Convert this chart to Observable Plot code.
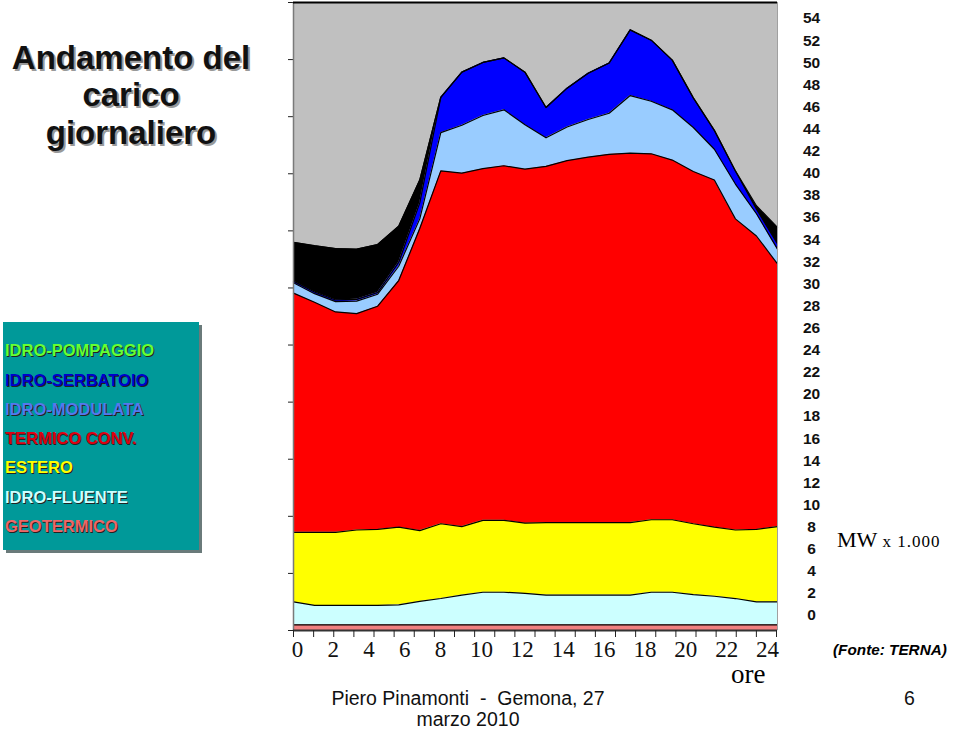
<!DOCTYPE html>
<html>
<head>
<meta charset="utf-8">
<script src="https://cdn.jsdelivr.net/npm/d3@7"></script>
<script src="https://cdn.jsdelivr.net/npm/@observablehq/plot@0.6"></script>
<style>
  html, body { margin: 0; padding: 0; background: #fff; }
  #page { position: relative; width: 960px; height: 730px; overflow: hidden; font-family: "Liberation Sans", Arial, sans-serif; }
  .abs { position: absolute; line-height: 1; white-space: pre; }
  .title { left: 0; width: 262px; text-align: center; font-weight: bold; font-size: 33px; color: #111; text-shadow: 2px 2px 0 #999; }
  #legend { position: absolute; left: 3px; top: 322px; width: 196px; height: 228px; background: #009999; box-shadow: 3px 3px 0 #6a7a7a; }
  .leg { left: 5px; font-weight: bold; font-size: 16.5px; text-shadow: 1px 1px 0 #222; }
  svg { position: absolute; overflow: visible; }
</style>
</head>
<body>
<div id="page">
  <div class="abs title" style="top:40.6px">Andamento del</div>
  <div class="abs title" style="top:77.6px">carico</div>
  <div class="abs title" style="top:116.1px">giornaliero</div>
  <div id="legend"></div>
  <div id="chart"></div>
  <div class="abs" style="left:837px; top:528.5px; font-family:'Liberation Serif','Times New Roman',serif; font-size:22px;">MW<span style="font-size:17px; letter-spacing:1px"> x 1.000</span></div>
  <div class="abs" style="left:731px; top:664px; font-family:'Liberation Serif','Times New Roman',serif; font-size:27px; line-height:0.8;">ore</div>
  <div class="abs" style="left:833px; top:641.5px; font-weight:bold; font-style:italic; font-size:15.3px;">(Fonte: TERNA)</div>
  <div class="abs" style="left:268px; width:400px; text-align:center; top:689px; font-size:19.5px; color:#111;">Piero Pinamonti  -  Gemona, 27</div>
  <div class="abs" style="left:268px; width:400px; text-align:center; top:710px; font-size:19.5px; color:#111;">marzo 2010</div>
  <div class="abs" style="left:904px; top:689px; font-size:19.5px; color:#111;">6</div>
</div>
<script>
// ---- data (MW x 1000), 24 hourly samples ----
const ore = [1, 2, 3, 4, 5, 6, 7, 8, 9, 10, 11, 12, 13, 14, 15, 16, 17, 18, 19, 20, 21, 22, 23, 24];

const fonti = ["GEOTERMICO", "IDRO-FLUENTE", "ESTERO", "TERMICO CONV.", "IDRO-MODULATA", "IDRO-SERBATOIO", "IDRO-POMPAGGIO"];
const colori = ["#f08080", "#ccffff", "#ffff00", "#ff0000", "#99ccff", "#0000ff", "#000000"];

const geotermico   = [0.5, 0.5, 0.5, 0.5, 0.5, 0.5, 0.5, 0.5, 0.5, 0.5, 0.5, 0.5, 0.5, 0.5, 0.5, 0.5, 0.5, 0.5, 0.5, 0.5, 0.5, 0.5, 0.5, 0.5];
const idroFluente  = [2.0, 1.7, 1.7, 1.7, 1.7, 1.75, 2.05, 2.3, 2.6, 2.85, 2.85, 2.75, 2.6, 2.6, 2.6, 2.6, 2.6, 2.85, 2.85, 2.65, 2.5, 2.3, 2.0, 2.0];
const estero       = [6.1, 6.4, 6.4, 6.6, 6.65, 6.8, 6.2, 6.55, 6.0, 6.3, 6.3, 6.15, 6.35, 6.35, 6.35, 6.35, 6.35, 6.35, 6.35, 6.2, 6.05, 6.0, 6.35, 6.6];
const termico      = [20.95, 20.15, 19.3, 18.95, 19.55, 21.6, 26.45, 30.9, 30.95, 30.8, 31.05, 31.0, 31.2, 31.7, 32.0, 32.25, 32.35, 32.05, 31.5, 30.85, 30.4, 27.25, 25.7, 23.0];
const idroModulata = [0.9, 0.75, 0.9, 1.1, 1.05, 1.25, 0.85, 3.35, 4.2, 4.65, 4.9, 3.9, 2.5, 2.95, 3.3, 3.6, 5.05, 4.6, 4.4, 3.85, 2.7, 3.05, 1.95, 1.3];
const idroSerbatoio= [0.15, 0.15, 0.15, 0.15, 0.15, 0.35, 1.4, 3.1, 4.65, 4.65, 4.55, 4.6, 2.65, 3.4, 4.05, 4.4, 5.75, 5.35, 4.35, 2.6, 1.65, 1.15, 0.4, 0.45];
const idroPompaggio= [3.4, 4.05, 4.5, 4.4, 4.2, 3.15, 2.0, 0, 0, 0, 0, 0, 0, 0, 0, 0, 0, 0, 0, 0, 0, 0, 0.3, 1.45];

const serie = [geotermico, idroFluente, estero, termico, idroModulata, idroSerbatoio, idroPompaggio];

// tick values / labels
const yTicksLeft = [0, 5, 10, 15, 20, 25, 30, 35, 40, 45, 50, 55];
const hourTicks = [0, 1, 2, 3, 4, 5, 6, 7, 8, 9, 10, 11, 12, 13, 14, 15, 16, 17, 18, 19, 20, 21, 22, 23, 24];
const hourLabels = [0, 2, 4, 6, 8, 10, 12, 14, 16, 18, 20, 22, 24];
const mwLabels = [54, 52, 50, 48, 46, 44, 42, 40, 38, 36, 34, 32, 30, 28, 26, 24, 22, 20, 18, 16, 14, 12, 10, 8, 6, 4, 2, 0];

// legend (top to bottom)
const legendOrder = ["IDRO-POMPAGGIO", "IDRO-SERBATOIO", "IDRO-MODULATA", "TERMICO CONV.", "ESTERO", "IDRO-FLUENTE", "GEOTERMICO"];
const legendColors = ["#66ff33", "#0000cc", "#5577ee", "#dd0011", "#ffff00", "#ccffff", "#ee6666"];
const legendCenters = [350, 380, 409, 438, 467, 497, 526];

const table = fonti.flatMap((f, k) => ore.map((h, i) => ({ora: h, fonte: f, mw: serie[k][i]})));

const page = document.getElementById("page");

// legend items
legendOrder.forEach((name, i) => {
  const d = document.createElement("div");
  d.className = "abs leg";
  d.style.top = (legendCenters[i] - 8) + "px";
  d.style.color = legendColors[i];
  d.textContent = name;
  page.appendChild(d);
});

// main stacked area chart
const main = Plot.plot({
  width: 540, height: 640,
  marginLeft: 43, marginRight: 13, marginTop: 2, marginBottom: 10,
  x: {domain: [1, 24], axis: null},
  y: {domain: [0, 55], axis: null},
  color: {domain: fonti, range: colori},
  style: {background: "transparent"},
  marks: [
    Plot.frame({fill: "#c0c0c0", stroke: null}),
    Plot.areaY(table, {x: "ora", y: "mw", z: "fonte", fill: "fonte", order: fonti}),
    Plot.lineY(table, Plot.stackY2({x: "ora", y: "mw", z: "fonte", order: fonti, stroke: "#000", strokeWidth: 1.2})),
    Plot.axisY({anchor: "left", ticks: yTicksLeft, tickSize: 5, tickFormat: () => "", label: null, stroke: "#222"}),
    Plot.ruleX([1], {stroke: "#7a7a7a", strokeWidth: 1.5}),
    Plot.ruleX([24], {stroke: "#a0a0a0", strokeWidth: 1}),
    Plot.ruleY([55], {stroke: "#000", strokeWidth: 2}),
    Plot.ruleY([0], {stroke: "#333", strokeWidth: 2})
  ]
});
main.style.left = "250px";
main.style.top = "0px";
page.appendChild(main);

// hour tick marks
const hourAxis = Plot.plot({
  width: 540, height: 12,
  marginLeft: 43, marginRight: 14, marginTop: 0, marginBottom: 12,
  x: {domain: [0, 24], axis: null},
  style: {background: "transparent"},
  marks: [
    Plot.axisX({anchor: "bottom", ticks: hourTicks, tickSize: 7, tickFormat: () => "", label: null, stroke: "#222"})
  ]
});
hourAxis.style.left = "250px";
hourAxis.style.top = "630px";
page.appendChild(hourAxis);

// hour labels (text row under the axis)
const hourText = Plot.plot({
  width: 540, height: 30, margin: 0,
  x: {type: "linear", domain: [0, 8, 24], range: [47, 190, 517], axis: null},
  style: {background: "transparent"},
  marks: [
    Plot.text(hourLabels, {x: d => d, text: d => String(d), frameAnchor: "middle",
      fontSize: 23, fontFamily: "Liberation Serif, Times New Roman, serif", fill: "#111"})
  ]
});
hourText.style.left = "250px";
hourText.style.top = "634px";
page.appendChild(hourText);

// right-hand MW labels
const mwText = Plot.plot({
  width: 42, height: 640, margin: 0,
  y: {type: "linear", domain: [0, 54], range: [615, 18], axis: null},
  style: {background: "transparent"},
  marks: [
    Plot.text(mwLabels, {y: d => d, text: d => String(d), frameAnchor: "middle",
      fontSize: 15.5, fontWeight: "bold", fontFamily: "Liberation Sans, Arial, sans-serif", fill: "#111"})
  ]
});
mwText.style.left = "790px";
mwText.style.top = "0px";
page.appendChild(mwText);
</script>
</body>
</html>
